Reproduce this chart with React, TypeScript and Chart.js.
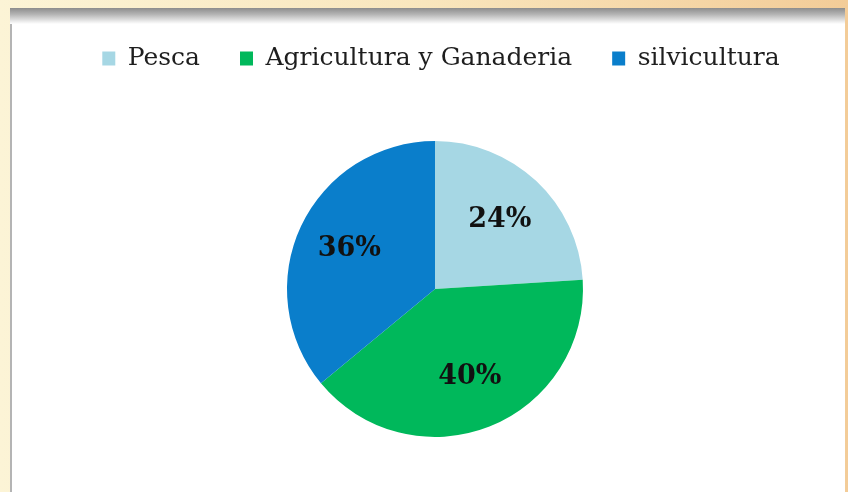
import React, { useEffect, useRef } from "react";
import { Chart, registerables } from "chart.js";

Chart.register(...registerables);

const categories = ["Pesca", "Agricultura y Ganaderia", "silvicultura"];
const shares = [24, 40, 36];
const colors = ["#a6d7e4", "#00b85b", "#0a7ecb"];

const sliceLabels = {
  id: "sliceLabels",
  afterDatasetsDraw(chart: any) {
    const ctx = chart.ctx;
    const meta = chart.getDatasetMeta(0);
    const values = chart.data.datasets[0].data as number[];
    ctx.save();
    ctx.font = "bold 27px 'DejaVu Serif'";
    ctx.fillStyle = "#111";
    ctx.textAlign = "center";
    ctx.textBaseline = "middle";
    meta.data.forEach((arc: any, i: number) => {
      const p = arc.getProps(["x", "y", "startAngle", "endAngle", "outerRadius"], true);
      const mid = (p.startAngle + p.endAngle) / 2;
      const r = p.outerRadius * 0.64;
      ctx.fillText(values[i] + "%", p.x + Math.cos(mid) * r, p.y + Math.sin(mid) * r);
    });
    ctx.restore();
  },
};

const legendShift = {
  id: "legendShift",
  afterLayout(chart: any) {
    if (chart.legend) {
      chart.legend.left += 6;
      chart.legend.right += 6;
    }
  },
};

export default function App() {
  const ref = useRef<HTMLCanvasElement>(null);
  useEffect(() => {
    if (!ref.current) return;
    const chart = new Chart(ref.current, {
      type: "pie",
      data: {
        labels: categories,
        datasets: [
          {
            data: shares,
            backgroundColor: colors,
            borderWidth: 0,
            radius: 148,
          },
        ],
      },
      options: {
        animation: false,
        responsive: false,
        maintainAspectRatio: false,
        layout: { padding: { top: 0, bottom: 29, left: 0, right: 0 } },
        plugins: {
          legend: {
            position: "top",
            labels: {
              boxWidth: 13,
              boxHeight: 14,
              padding: 40,
              color: "#1e1e1e",
              font: { family: "'DejaVu Serif'", size: 25 },
            },
          },
          tooltip: { enabled: false },
        },
      },
      plugins: [sliceLabels, legendShift],
    });
    return () => chart.destroy();
  }, []);

  return (
    <div
      style={{
        position: "fixed",
        left: 0,
        top: 0,
        width: 848,
        height: 492,
        overflow: "hidden",
        background: "linear-gradient(90deg, #fcf4d6 0%, #f9e6bd 50%, #f3cc98 100%)",
      }}
    >
      <div
        style={{
          position: "absolute",
          left: 10,
          top: 10,
          width: 835,
          height: 482,
          background: "#ffffff",
          borderLeft: "2px solid #b4b4b4",
          boxSizing: "border-box",
        }}
      />
      <div
        style={{
          position: "absolute",
          left: 10,
          top: 8,
          width: 835,
          height: 16,
          background: "linear-gradient(180deg, #8c8c8c 0%, #b5b5b5 40%, #ffffff 100%)",
        }}
      />
      <canvas
        ref={ref}
        width={826}
        height={520}
        style={{ position: "absolute", left: 22, top: 6, width: 826, height: 520 }}
      />
    </div>
  );
}
